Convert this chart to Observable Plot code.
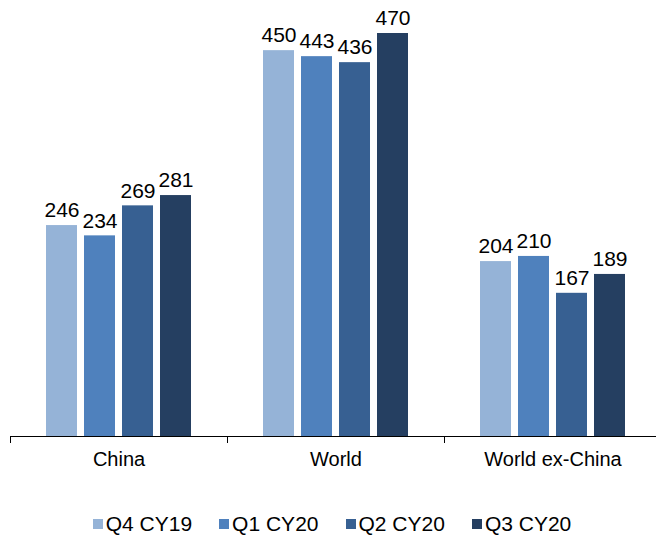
<!DOCTYPE html>
<html>
<head>
<meta charset="utf-8">
<script src="https://cdn.jsdelivr.net/npm/d3@7"></script>
<script src="https://cdn.jsdelivr.net/npm/@observablehq/plot@0.6"></script>
<style>
  html, body { margin: 0; padding: 0; background: #fff; }
  body { width: 656px; height: 538px; overflow: hidden; font-family: "Liberation Sans", Arial, sans-serif; }
  #legend { display: flex; justify-content: center; gap: 27px; margin-top: 22px; padding-left: 8px; font-size: 21px; color: #000; line-height: 24px; }
  #legend .item { display: flex; align-items: center; }
  #legend .sw { width: 10px; height: 10px; margin-right: 3px; }
</style>
</head>
<body>
<div id="chart"></div>
<div id="legend"></div>
<script>
const categories = ["China", "World", "World ex-China"];
const series = ["Q4 CY19", "Q1 CY20", "Q2 CY20", "Q3 CY20"];
const colors = ["#95b3d7", "#4f81bd", "#376092", "#253f61"];
const chinaValues = [246, 234, 269, 281];
const worldValues = [450, 443, 436, 470];
const exChinaValues = [204, 210, 167, 189];

const valuesByCategory = [chinaValues, worldValues, exChinaValues];
const data = [];
categories.forEach((c, i) => series.forEach((s, j) => data.push({category: c, series: s, value: valuesByCategory[i][j]})));

const bandHalf = (661 - 10) / categories.length / 2;

const chart = Plot.plot({
  width: 656,
  height: 490,
  marginTop: 33,
  marginBottom: 54,
  marginLeft: 10,
  marginRight: 0,
  style: {fontFamily: '"Liberation Sans", Arial, sans-serif', color: "#000", background: "#fff"},
  fx: {domain: categories, range: [10, 661], padding: 0, label: null},
  x: {domain: series, paddingInner: 0.18, paddingOuter: 0.9, axis: null},
  y: {domain: [0, 470], axis: null},
  color: {domain: series, range: colors},
  marks: [
    Plot.barY(data, {fx: "category", x: "series", y: "value", fill: "series"}),
    Plot.text(data, {fx: "category", x: "series", y: "value", text: d => String(d.value), dy: -15, fontSize: 21, fill: "#000"}),
    Plot.ruleY([0], {stroke: "#000", strokeWidth: 1}),
    Plot.axisFx({anchor: "bottom", tickSize: 7, dx: -bandHalf, tickFormat: () => "", label: null, stroke: "#000"}),
    Plot.axisFx({anchor: "bottom", tickSize: 0, tickPadding: 15, fontSize: 20, label: null, fill: "#000"})
  ]
});
document.getElementById("chart").appendChild(chart);

const legend = d3.select("#legend");
series.forEach((s, i) => {
  const item = legend.append("div").attr("class", "item");
  item.append("div").attr("class", "sw").style("background", colors[i]);
  item.append("span").text(s);
});
</script>
</body>
</html>
